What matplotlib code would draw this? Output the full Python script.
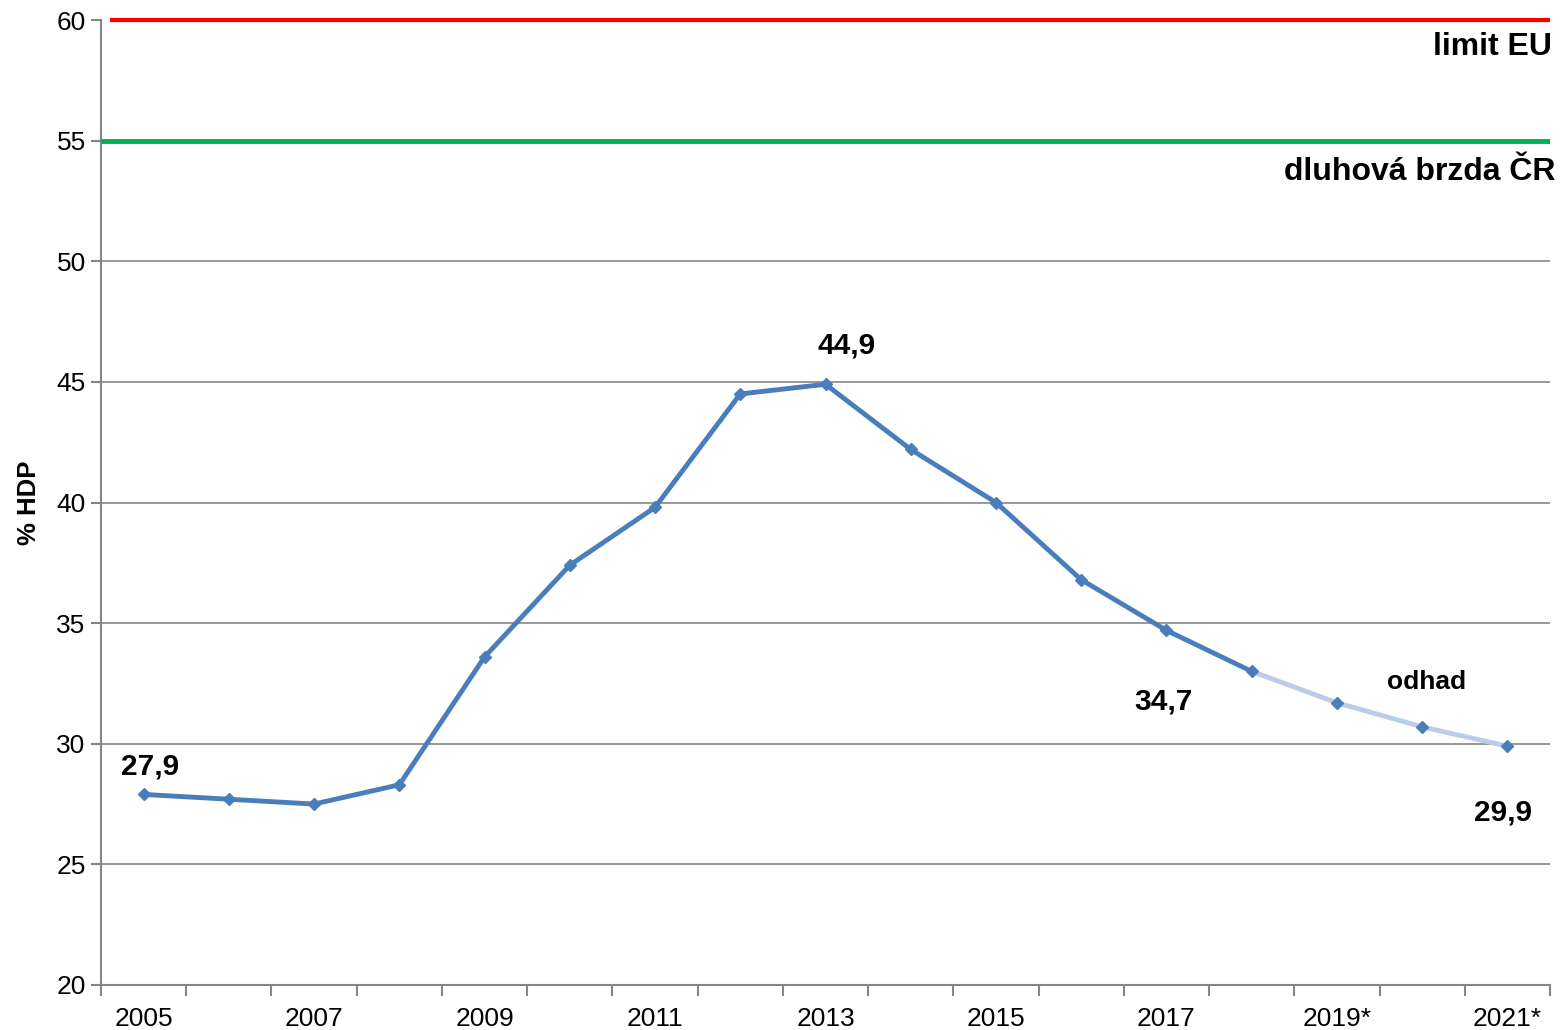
import matplotlib
matplotlib.use("Agg")
import matplotlib.pyplot as plt
import matplotlib.transforms as mtransforms

plt.rcParams['font.family'] = ['Liberation Sans', 'DejaVu Sans']

years = ["2005", "2006", "2007", "2008", "2009", "2010", "2011", "2012", "2013",
         "2014", "2015", "2016", "2017", "2018", "2019*", "2020*", "2021*"]
debt = [27.9, 27.7, 27.5, 28.3, 33.6, 37.4, 39.8, 44.5, 44.9,
        42.2, 40.0, 36.8, 34.7, 33.0, 31.7, 30.7, 29.9]
forecast_start = 13  # index of 2018, from which the estimate begins
eu_limit = 60
debt_brake = 55
yticks = [20, 25, 30, 35, 40, 45, 50, 55, 60]

W, H = 1565, 1030
fig = plt.figure(figsize=(W / 100, H / 100), dpi=100)
ax = fig.add_axes([101 / W, 1 - 985 / H, (1550 - 101) / W, (985 - 20) / H])

n = len(years)
x = list(range(n))

ax.set_xlim(-0.5, n - 0.5)
ax.set_ylim(20, 60)

grid_col = '#868686'
for v in yticks[1:-1]:
    ax.axhline(v, color=grid_col, lw=1.2, zorder=1)

ax.plot([-0.4, n - 0.5], [eu_limit, eu_limit], color='#FF0000', lw=3, zorder=3,
        solid_capstyle='butt', clip_on=False)
ax.plot([-0.5, n - 0.5], [debt_brake, debt_brake], color='#00B050', lw=3.5, zorder=3,
        solid_capstyle='butt')

blue = '#4A7EBB'
light = '#B9CDEA'
ax.plot(x[:forecast_start + 1], debt[:forecast_start + 1], color=blue, lw=3.5, zorder=4,
        solid_capstyle='round', solid_joinstyle='round')
ax.plot(x[forecast_start:], debt[forecast_start:], color=light, lw=3.5, zorder=4,
        solid_capstyle='round', solid_joinstyle='round')
ax.plot(x, debt, ls='none', marker='D', ms=6, color=blue, zorder=5, clip_on=False)

for s in ['top', 'right']:
    ax.spines[s].set_visible(False)
for s in ['left', 'bottom']:
    ax.spines[s].set_color(grid_col)
    ax.spines[s].set_linewidth(1.5)

ax.set_yticks(yticks)
ax.set_yticklabels([str(v) for v in yticks], fontsize=19)
ax.tick_params(axis='y', length=7, width=1.5, color=grid_col, pad=4)

ax.set_xticks([i - 0.5 for i in range(n + 1)], minor=False)
ax.set_xticklabels([])
ax.set_xticks(x[::2], minor=True)
ax.set_xticklabels(years[::2], minor=True, fontsize=19)
ax.tick_params(axis='x', which='major', length=8, width=1.5, color=grid_col)
ax.tick_params(axis='x', which='minor', length=0, pad=16)

ax.set_ylabel('% HDP', fontsize=18.5, fontweight='bold', labelpad=11)

def lab(i, txt, dx, dy, size=21.5):
    ax.annotate(txt, (x[i], debt[i]), xytext=(dx, dy), textcoords='offset pixels',
                ha='center', va='center', fontsize=size, fontweight='bold', zorder=6)

lab(0, '27,9', 6, 28)
lab(8, '44,9', 21, 39)
lab(12, '34,7', -3, -71)
lab(16, '29,9', -4, -66)
lab(15, 'odhad', 4, 45, size=19)

trans = mtransforms.blended_transform_factory(ax.transAxes, ax.transData)
ax.text(1.0015, eu_limit - 1.12, 'limit EU', transform=trans, ha='right', va='center',
        fontsize=23, fontweight='bold')
ax.text(1.0035, debt_brake - 1.28, 'dluhová brzda ČR', transform=trans, ha='right', va='center',
        fontsize=23, fontweight='bold')

fig.savefig('out.png', dpi=100)
